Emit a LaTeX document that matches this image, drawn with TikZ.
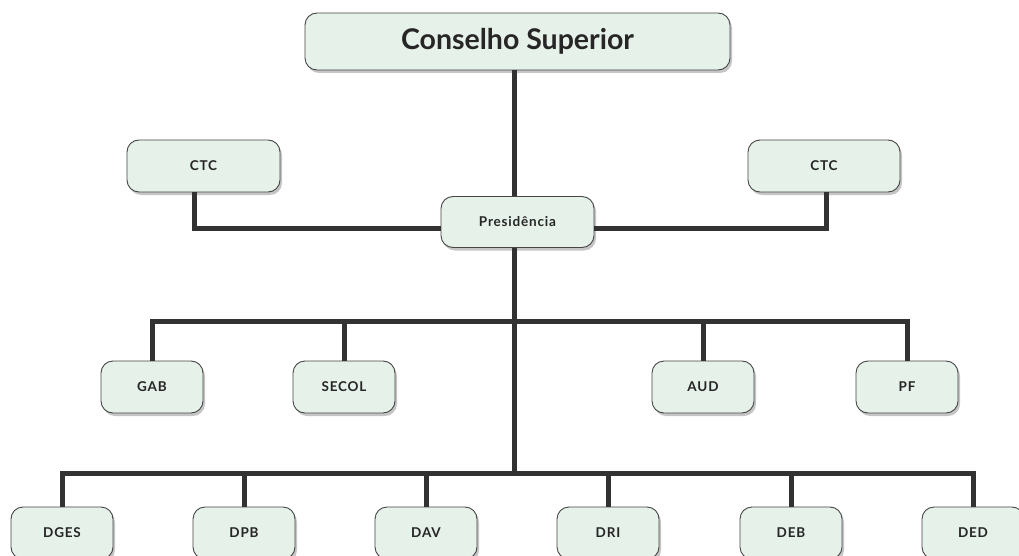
\documentclass[tikz,border=0pt]{standalone}
\usepackage{fontspec}
\setmainfont{Lato}
\usetikzlibrary{shadows}
\definecolor{boxfill}{RGB}{229,241,233}
\definecolor{boxline}{RGB}{70,70,70}
\definecolor{linkcol}{RGB}{50,50,50}
\newfontfamily\labelfont[LetterSpace=6]{Lato}

\begin{document}
\begin{tikzpicture}[x=1pt,y=-1pt,
    unitbox/.style={draw=boxline, fill=boxfill, line width=0.9pt, rounded corners=12pt,
      minimum width=102pt, minimum height=52pt, inner sep=0pt,
      drop shadow={shadow xshift=2pt, shadow yshift=-3pt, opacity=0.45},
      font=\fontsize{13.5}{15}\labelfont\bfseries, text=black!85},
    link/.style={draw=linkcol, line width=5pt, line join=miter}]
      \clip (0,0) rectangle (1019,556);
      \fill[white] (0,0) rectangle (1019,556);
      \def\midbar{321}
      \def\lowbar{473}

      \node[unitbox, minimum width=425pt, minimum height=57pt,
        font=\fontsize{28.5}{32}\selectfont\bfseries] (cs) at (517.5,41.5) {Conselho Superior};
      \node[unitbox, minimum width=153pt] (ctcL) at (203.5,166) {CTC};
      \node[unitbox, minimum width=152pt] (ctcR) at (824,166) {CTC};
      \node[unitbox, minimum width=153pt, minimum height=51pt] (pres) at (517.5,222) {Presidência};

      \foreach \name/\lab/\x in {gab/GAB/152, secol/SECOL/344, aud/AUD/703, pf/PF/907} {
        \node[unitbox] (\name) at (\x,387) {\lab};
      }
      \foreach \name/\lab/\x in {dges/DGES/62, dpb/DPB/244, dav/DAV/426, dri/DRI/608, deb/DEB/791, ded/DED/973} {
        \node[unitbox] (\name) at (\x,533) {\lab};
      }

      \coordinate (mid) at (514,\midbar);
      \coordinate (low) at (514,\lowbar);

      \draw[link] (cs.south -| mid) -- (pres.north -| mid);
      \draw[link] (ctcL.south -| 194,0) |- ([yshift=-6pt]pres.west);
      \draw[link] (ctcR.south -| 826,0) |- ([yshift=-6pt]pres.east);
      \draw[link] (pres.south -| mid) -- (low);
      \foreach \name in {gab, secol, aud, pf} {
        \draw[link] (\name.north) |- (mid);
      }
      \foreach \name in {dges, dpb, dav, dri, deb, ded} {
        \draw[link] (\name.north) |- (low);
      }
    \end{tikzpicture}
\end{document}
